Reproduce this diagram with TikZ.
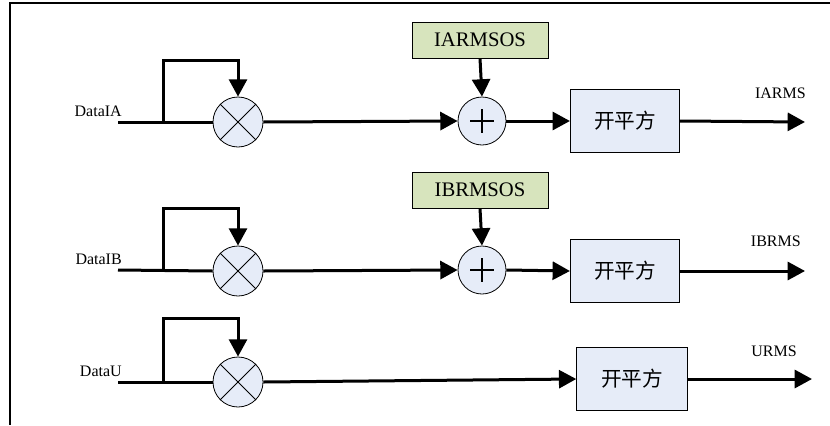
\documentclass[tikz,border=0pt]{standalone}
\usepackage{fontspec}
\setmainfont{Liberation Serif}
\newfontfamily\cjkfont{Noto Sans CJK SC}
\usepackage{tikz}
\usetikzlibrary{arrows.meta,positioning}

\definecolor{osgreen}{RGB}{215,228,189}
\definecolor{sqblue}{RGB}{230,236,248}

\tikzset{
  sig/.style={line width=2.25pt},
  sigarrow/.style={line width=2.25pt,-{Triangle[length=13pt,width=13.5pt]}},
  mult/.style={circle,draw,fill=sqblue,minimum size=37.5pt,inner sep=0pt,line width=0.6pt},
  adder/.style={circle,draw,fill=sqblue,minimum size=36pt,inner sep=0pt,line width=0.6pt},
  osbox/.style={draw,fill=osgreen,minimum width=102pt,minimum height=27pt,inner sep=0pt,line width=0.6pt,font=\fontsize{15.5}{18}\selectfont},
  sqbox/.style={draw,fill=sqblue,minimum width=82pt,minimum height=47pt,inner sep=0pt,line width=0.6pt,font=\cjkfont\fontsize{15.5}{18}\selectfont},
  lbl/.style={inner sep=0pt,font=\fontsize{12}{14}\selectfont},
}

\begin{document}
\begin{tikzpicture}[x=0.75pt,y=0.75pt,yscale=-1,xscale=1]
\useasboundingbox (0,0) rectangle (830,425);

%Frame
\draw[line width=1.2pt] (830,3) -- (10,3) -- (10,425);

%Shape: Circle [mult A]
\node[mult] (mA) at (238,122) {};
\draw[line width=0.6pt] (mA.45) -- (mA.225) (mA.135) -- (mA.315);
%Shape: Circle [mult B]
\node[mult] (mB) at (238,271) {};
\draw[line width=0.6pt] (mB.45) -- (mB.225) (mB.135) -- (mB.315);
%Shape: Circle [mult C]
\node[mult] (mC) at (238,382) {};
\draw[line width=0.6pt] (mC.45) -- (mC.225) (mC.135) -- (mC.315);

%Shape: Circle [adder A]
\node[adder] (pA) at (482,121) {};
\draw[line width=1.1pt] ([xshift=-9pt]pA.center) -- ([xshift=9pt]pA.center) ([yshift=-9pt]pA.center) -- ([yshift=9pt]pA.center);
%Shape: Circle [adder B]
\node[adder] (pB) at (482,270) {};
\draw[line width=1.1pt] ([xshift=-9pt]pB.center) -- ([xshift=9pt]pB.center) ([yshift=-9pt]pB.center) -- ([yshift=9pt]pB.center);

%Shape: Rectangle [offsets]
\node[osbox] (osA) at (480,40) {IARMSOS};
\node[osbox] (osB) at (480,190) {IBRMSOS};

%Shape: Rectangle [square root]
\node[sqbox] (sqA) at (625,121) {开平方};
\node[sqbox] (sqB) at (625,271) {开平方};
\node[sqbox,minimum width=83pt] (sqC) at (632,379) {开平方};

%Points
\coordinate (inA) at (118,122);
\coordinate (brA) at (163,122);
\coordinate (topA) at (163,60);
\coordinate (outA) at (805,122);
\coordinate (inB) at (118,270);
\coordinate (brB) at (163,270);
\coordinate (topB) at (163,208);
\coordinate (outB) at (805,271);
\coordinate (inC) at (118,382);
\coordinate (brC) at (163,382);
\coordinate (topC) at (163,318);
\coordinate (outC) at (812,379);

%Straight Lines [row A]
\draw[sig] (inA) -- (mA.west);
\draw[sigarrow] (brA) -- (topA) -| (mA.north);
\draw[sigarrow] (mA.east) -- (pA.west);
\draw[sigarrow] (osA.south) -- (pA.north);
\draw[sigarrow] (pA.east) -- (sqA.west);
\draw[sigarrow] (sqA.east) -- (outA);
%Straight Lines [row B]
\draw[sig] (inB) -- (mB.west);
\draw[sigarrow] (brB) -- (topB) -| (mB.north);
\draw[sigarrow] (mB.east) -- (pB.west);
\draw[sigarrow] (osB.south) -- (pB.north);
\draw[sigarrow] (pB.east) -- (sqB.west);
\draw[sigarrow] (sqB.east) -- (outB);
%Straight Lines [row C]
\draw[sig] (inC) -- (mC.west);
\draw[sigarrow] (brC) -- (topC) -| (mC.north);
\draw[sigarrow] (mC.east) -- (sqC.west);
\draw[sigarrow] (sqC.east) -- (outC);

% Text Node
\node[lbl,anchor=south east] (labA) at (122,117) {DataIA};
% Text Node
\node[lbl,anchor=south east] (labB) at (122,265) {DataIB};
% Text Node
\node[lbl,anchor=south east] (labC) at (122,377) {DataU};
% Text Node
\node[lbl,anchor=south east] (resA) at (806,99) {IARMS};
% Text Node
\node[lbl,anchor=south east] (resB) at (801,247) {IBRMS};
% Text Node
\node[lbl,anchor=south east] (resC) at (797,357) {URMS};

\end{tikzpicture}
\end{document}
